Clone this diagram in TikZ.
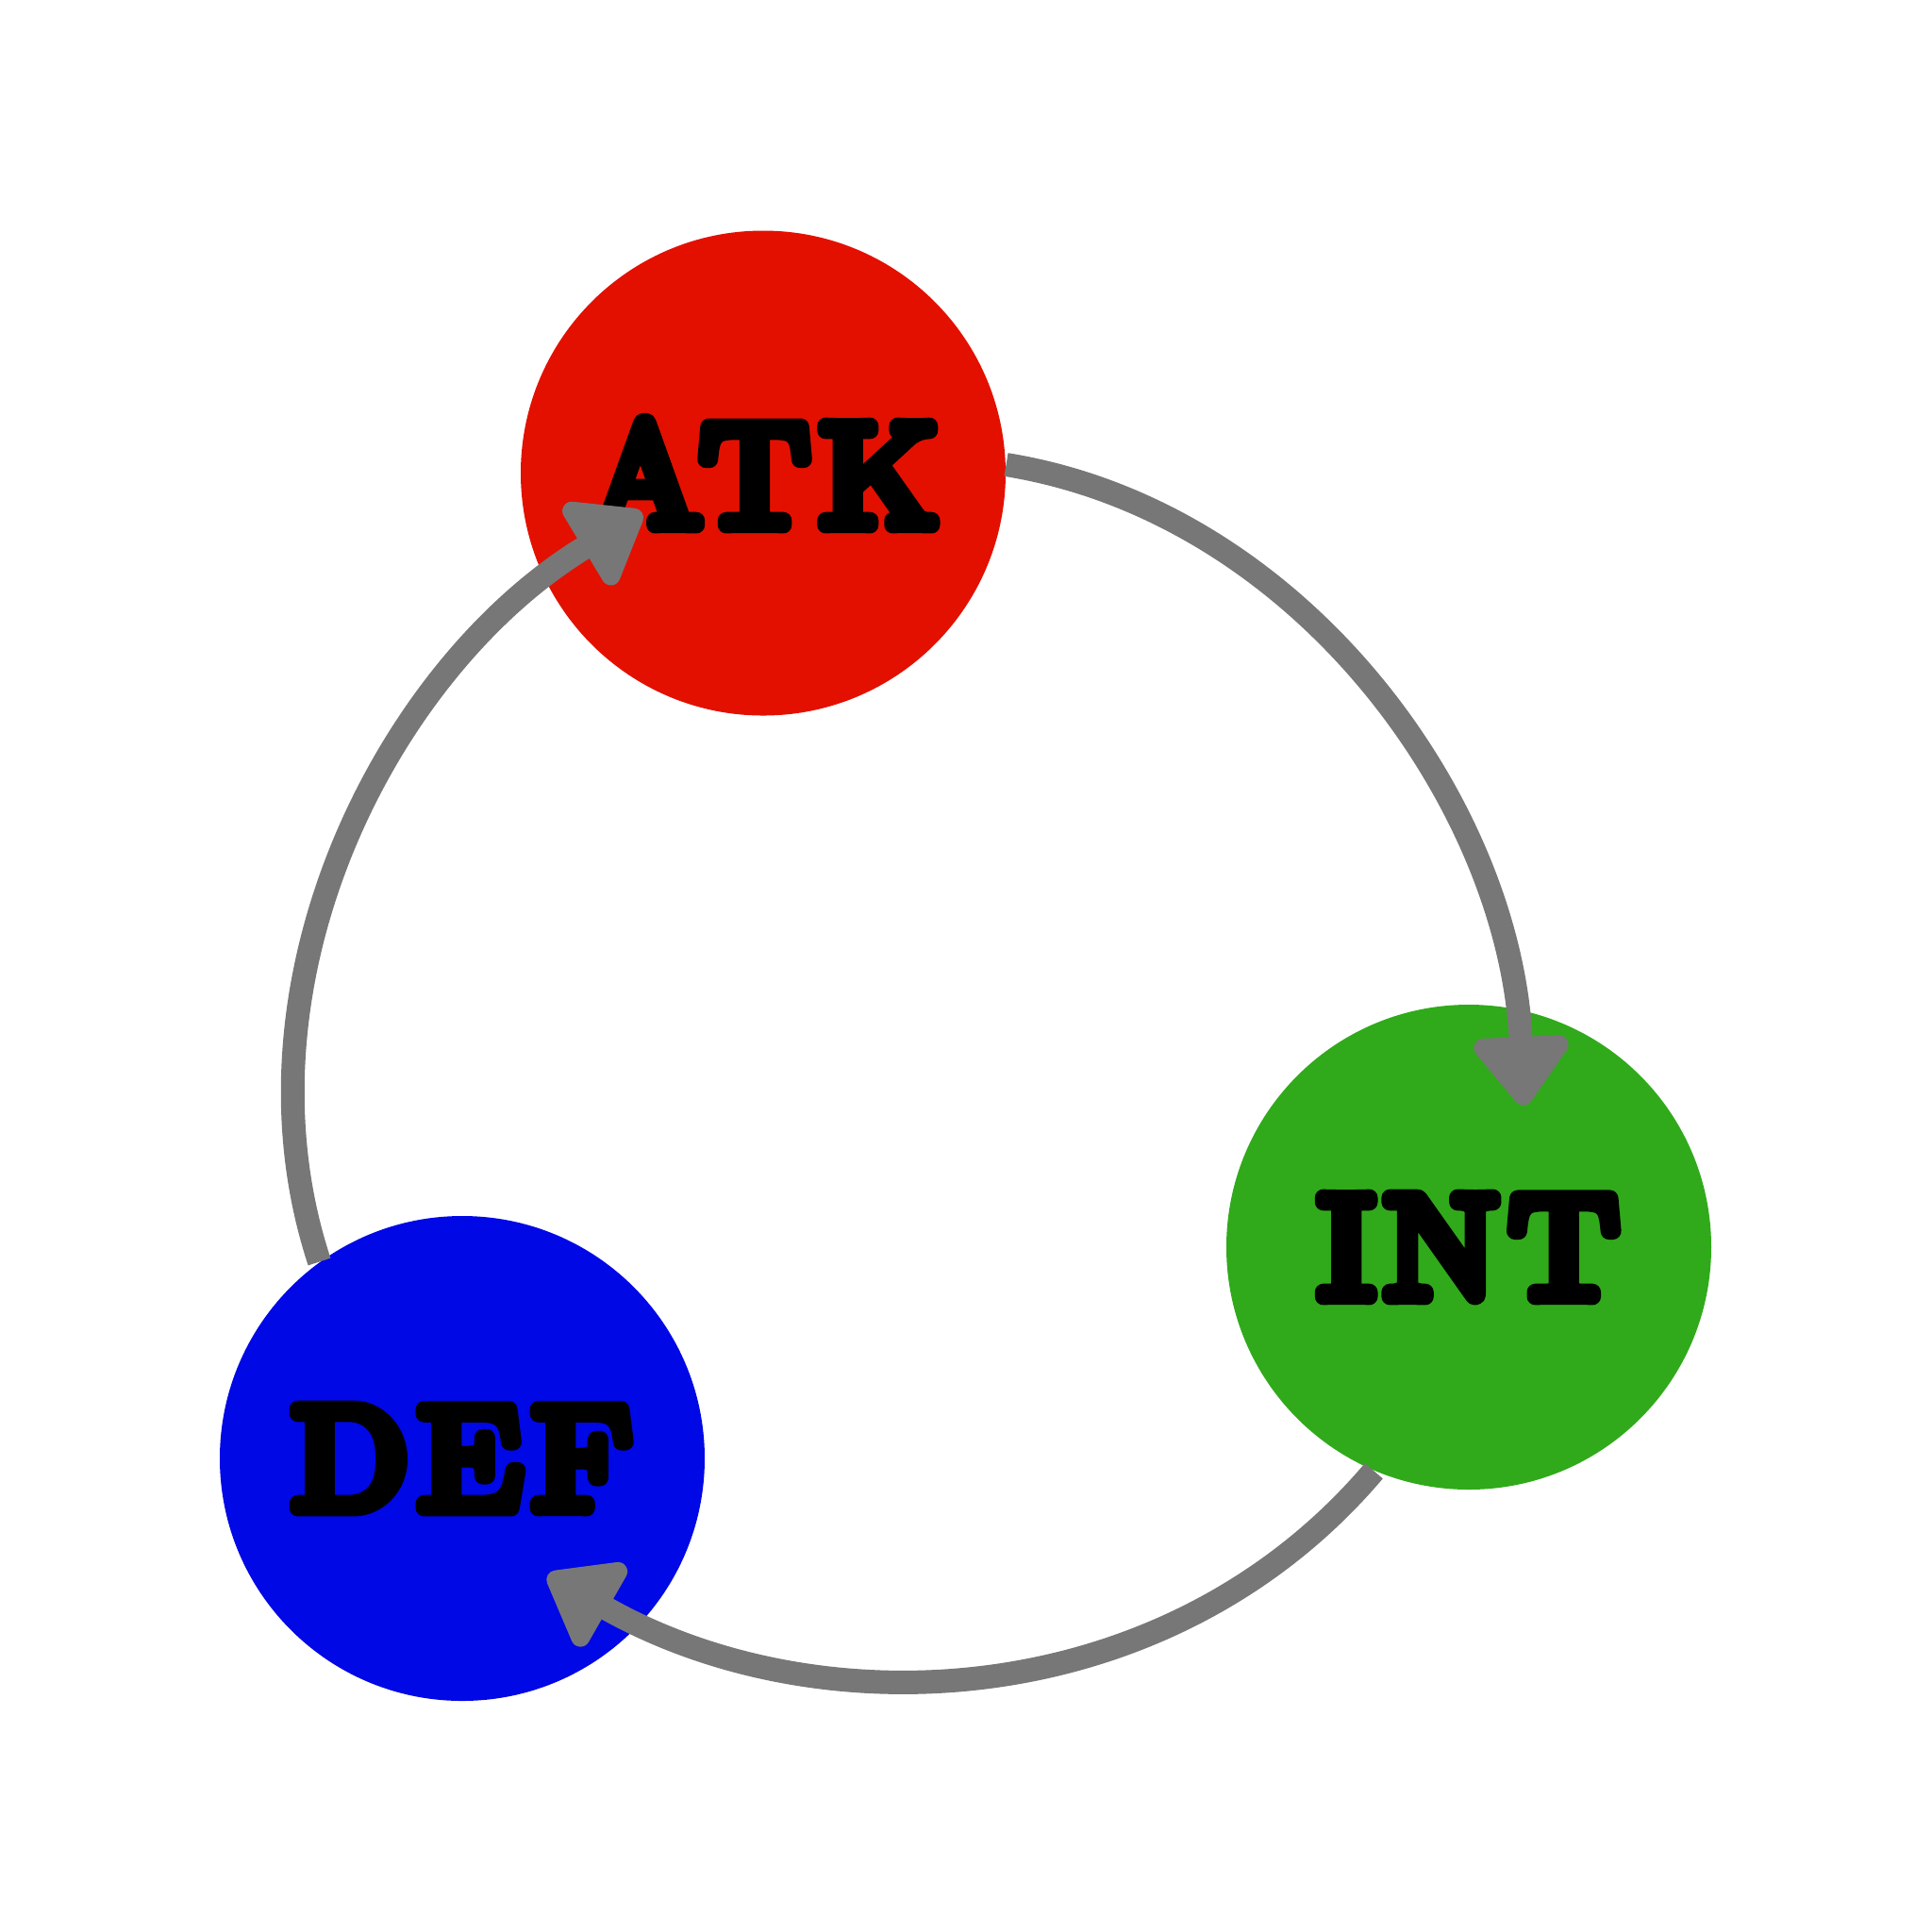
\documentclass[tikz,border=0pt]{standalone}
\usepackage{fontspec}
\usepackage{tikz}
\usetikzlibrary{arrows.meta}
\newfontfamily\tagfont[FakeStretch=1.04,LetterSpace=8]{lmroman10-regular.otf}
% outlined letters: fill and stroke with round joins
\newcommand\fatlabel[1]{\special{pdf:literal direct 1 j 1 J 2 Tr 5.1 w}#1\special{pdf:literal direct 0 Tr}}
\definecolor{cRed}{HTML}{E31000}
\definecolor{cGreen}{HTML}{30AA1A}
\definecolor{cBlue}{HTML}{0008E6}
\definecolor{cGray}{HTML}{777777}

\begin{document}
\begin{tikzpicture}[
   role/.style={circle,inner sep=0pt,minimum size=5.14cm,text=black,
     font=\tagfont\fontsize{43.7}{43.7}\selectfont},
   link/.style={-{Triangle[round,length=8mm,width=11.5mm]},line width=2.5mm,cGray}]
  \useasboundingbox (0,0) rectangle (20.48,-20.48);
  \node[role,fill=cRed] (atk) at (8.09,-5.015) {\fatlabel{ATK}};
  \node[role,fill=cGreen] (int) at (15.57,-13.22) {\fatlabel{INT}};
  \node[role,fill=cBlue] (def) at (4.90,-15.46) {\fatlabel{DEF}};
  % arrow tips sit inside the target circles
  \coordinate (intTip) at (16.153,-11.719);
  \coordinate (defTip) at (5.806,-16.696);
  \coordinate (atkTip) at (6.807,-5.436);
  \draw[link] (atk.2) to[out=-9.2,in=92.6,looseness=0.93] (intTip);
  \draw[link] (int.247) to[out=-130.3,in=-29.7,looseness=0.97] (defTip);
  \draw[link] (def.126) to[out=108.2,in=211.1,looseness=0.93] (atkTip);
\end{tikzpicture}
\end{document}
